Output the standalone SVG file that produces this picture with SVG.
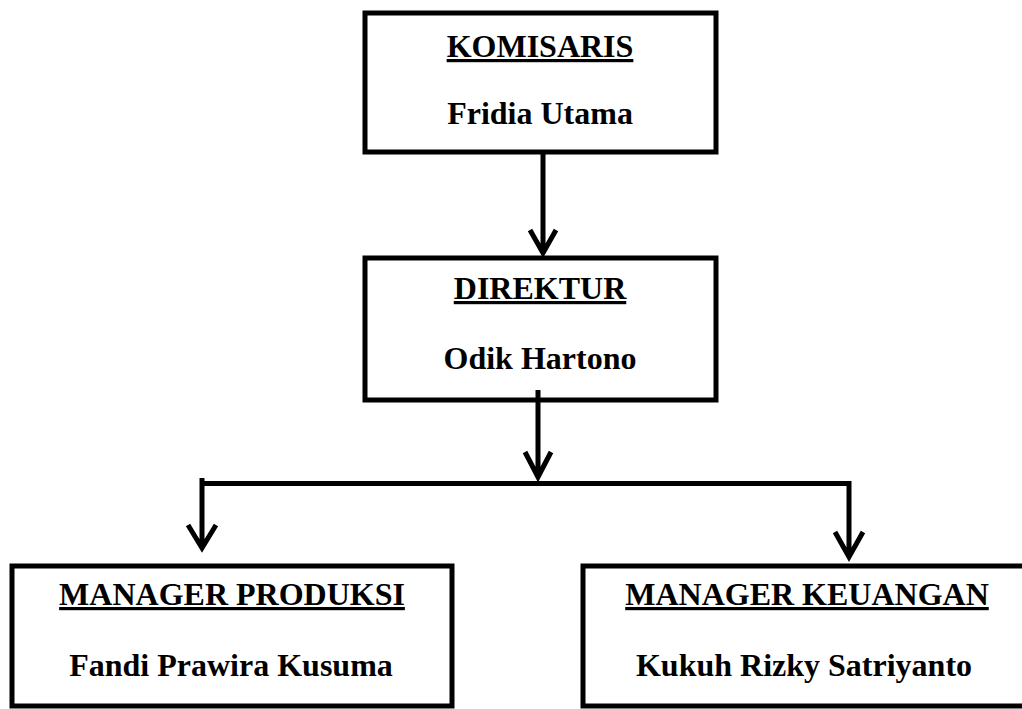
<svg xmlns="http://www.w3.org/2000/svg" width="1022" height="709" viewBox="0 0 1022 709">
<style>
.box{fill:#fff;stroke:#000;stroke-width:5}
.t{font-family:"Liberation Serif","Times New Roman",serif;font-weight:bold;font-size:32px;fill:#000;text-anchor:middle}
.u{text-decoration:underline;text-decoration-thickness:3px}
.c{fill:none;stroke:#000;stroke-width:5}
</style>
<rect width="1022" height="709" fill="#fff"/>
<g id="komisaris">
<rect class="box" x="365" y="13" width="351" height="139"/>
<text class="t u" x="540" y="57">KOMISARIS</text>
<text class="t" x="540" y="124">Fridia Utama</text>
</g>
<g id="direktur">
<rect class="box" x="365" y="258" width="351" height="142"/>
<text class="t u" x="540" y="299">DIREKTUR</text>
<text class="t" x="540" y="369">Odik Hartono</text>
</g>
<g id="manager-produksi">
<rect class="box" x="12" y="566" width="440" height="140"/>
<text class="t u" x="232" y="605">MANAGER PRODUKSI</text>
<text class="t" x="231" y="676">Fandi Prawira Kusuma</text>
</g>
<g id="manager-keuangan">
<rect class="box" x="583" y="566" width="460" height="140"/>
<text class="t u" x="807" y="605">MANAGER KEUANGAN</text>
<text class="t" x="804" y="676">Kukuh Rizky Satriyanto</text>
</g>
<g id="connectors">
<path class="c" d="M543 152 V253 M530 230 L543 253 L556 230"/>
<path class="c" d="M538 390 V477 M525 452 L538 477 L551 452"/>
<path class="c" d="M202 478 V548 M188 525 L202 548 L216 525"/>
<path class="c" d="M200 483.5 H849 V557 M835 532 L849 557 L863 532"/>
</g>
</svg>
